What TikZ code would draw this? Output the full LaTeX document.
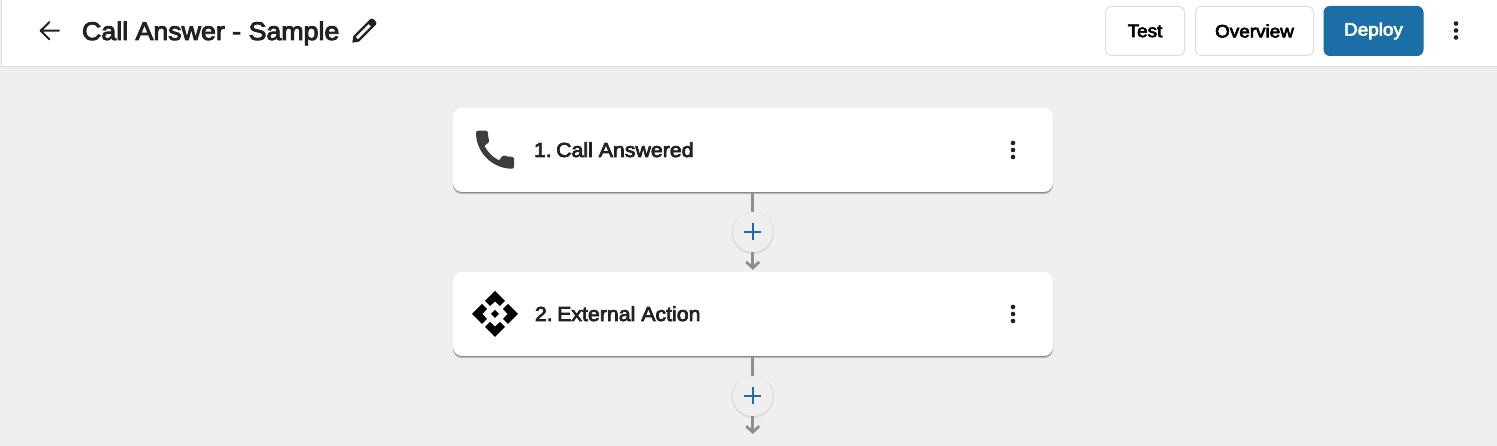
\documentclass[tikz,border=0pt]{standalone}
\usepackage{fontspec}
\setmainfont{Liberation Sans}
\newfontfamily\semifont[FakeBold=3.6,FakeStretch=1.05]{Liberation Sans}
\usetikzlibrary{arrows.meta,positioning,shadows}
\definecolor{pageColor}{RGB}{239,239,239}
\definecolor{edgeColor}{RGB}{222,222,222}
\definecolor{inkColor}{RGB}{33,33,33}
\definecolor{deployColor}{RGB}{27,111,166}
\definecolor{wireColor}{RGB}{142,142,142}
\definecolor{phoneColor}{RGB}{60,60,60}
\tikzset{
  softshadow/.style={general shadow={shadow xshift=0pt,shadow yshift=#1,opacity=0.10,fill=black}},
  cardbox/.style={draw=none,fill=white,rounded corners=9pt,minimum width=600pt,minimum height=84pt,
    softshadow=-2.5pt,softshadow=-2pt,
    general shadow={shadow xshift=0pt,shadow yshift=-1pt,opacity=0.30,fill=black}},
  cardtext/.style={text=inkColor,anchor=base west,inner sep=0pt,outer sep=0pt,font=\semifont\fontsize{20.3}{24}\selectfont},
  toolbtn/.style={draw=edgeColor,line width=1pt,fill=white,rounded corners=6pt,minimum height=49pt,inner sep=0pt,
    text=black,font=\semifont\fontsize{18}{20}\selectfont},
  addbtn/.style={circle,draw=none,fill=pageColor,minimum size=40pt,inner sep=0pt,text=deployColor,
    general shadow={shadow scale=1.08,shadow yshift=-0.8pt,opacity=0.04,fill=black},
    general shadow={shadow scale=1.04,shadow yshift=-0.8pt,opacity=0.05,fill=black}},
  wire/.style={draw=wireColor,line width=3.5pt},
  wiretip/.style={wire,-{Straight Barb[length=6pt,width=13pt,line width=2.8pt]}},
  dotmark/.style={circle,fill=inkColor,minimum size=4.6pt,inner sep=0pt}
}
\begin{document}
\begin{tikzpicture}[x=1pt,y=1pt]
\path[use as bounding box,fill=pageColor] (0,0) rectangle (1497,446);
% header
\path[fill=white] (1.5,379) rectangle (1497,446);
\path[draw=edgeColor,line width=1pt] (1,379) -- (1497,379);
\path[draw=edgeColor,line width=1pt] (1,379) -- (1,446);
\draw[inkColor,line width=2pt,line cap=round,line join=round] (59,415.3) -- (41,415.3) (49.5,424) -- (40.7,415.3) -- (49.5,406.5);
\node[text=inkColor,anchor=base west,inner sep=0pt,outer sep=0pt,font=\semifont\fontsize{25.5}{30}\selectfont] (title) at (82,406) {Call Answer - Sample};
\begin{scope}[shift={(364,415)},rotate=45]
\path[fill=inkColor] (-16.5,0) -- (-11,4) -- (13,4) .. controls (16,4) and (16,-4) .. (13,-4) -- (-11,-4) -- cycle;
\path[fill=white] (-10,1.5) -- (8,1.5) -- (8,-1.5) -- (-10,-1.5) -- cycle;
\end{scope}
\node[toolbtn,minimum width=79pt] (test) at (1145,415) {Test};
\node[toolbtn,minimum width=118pt] (overview) at (1254.5,415) {Overview};
\node[toolbtn,minimum width=99pt,draw=deployColor,fill=deployColor,text=white] (deploy) at (1373.5,415) {Deploy};
\node[dotmark] (topdotA) at (1456,422.5) {};
\node[dotmark] (topdotB) at (1456,415.5) {};
\node[dotmark] (topdotC) at (1456,408.5) {};
% cards
\node[cardbox] (card1) at (753,296) {};
\node[cardbox] (card2) at (753,132) {};
\node[addbtn] (add1) at (752.7,214) {};
\node[addbtn] (add2) at (752.7,50) {};
\coordinate (end2) at (752.7,12);
% connectors
\draw[wire] (card1.south -| add1) -- (add1.north);
\draw[wiretip,shorten >=2pt] (add1.south) -- (card2.north -| add1);
\draw[wire] (card2.south -| add2) -- (add2.north);
\draw[wiretip] (add2.south) -- (end2);
\foreach \addname in {add1,add2}{
  \draw[deployColor,line width=2pt] ([xshift=-8.5pt]\addname.center) -- ([xshift=8.5pt]\addname.center)
    ([yshift=-8.5pt]\addname.center) -- ([yshift=8.5pt]\addname.center);
}
\node[cardtext] (label1) at (534,289) {1.\hspace{-3.5pt} Call Answered};
\node[cardtext] (label2) at (535,125) {2.\hspace{-3.5pt} External Action};
\foreach \cardname/\yy in {card1/296,card2/132}{
  \node[dotmark] at (1013,\yy+7) {};
  \node[dotmark] at (1013,\yy) {};
  \node[dotmark] at (1013,\yy-7) {};
}
% phone icon
\begin{scope}[shift={(469.7,321.6)},x=2.11pt,y=-2.11pt]
\path[fill=phoneColor] (20.01,15.38) .. controls (18.78,15.38) and (17.59,15.18) .. (16.48,14.82)
  .. controls (16.13,14.70) and (15.74,14.79) .. (15.47,15.06) -- (13.90,17.03)
  .. controls (11.07,15.68) and (8.42,13.13) .. (7.01,10.20) -- (8.96,8.54)
  .. controls (9.23,8.26) and (9.31,7.87) .. (9.20,7.52)
  .. controls (8.83,6.41) and (8.64,5.22) .. (8.64,3.99)
  .. controls (8.64,3.45) and (8.19,3.00) .. (7.65,3.00) -- (4.19,3.00)
  .. controls (3.65,3.00) and (3.00,3.24) .. (3.00,3.99)
  .. controls (3.00,13.28) and (10.73,21.00) .. (20.01,21.00)
  .. controls (20.72,21.00) and (21.00,20.37) .. (21.00,19.82) -- (21.00,16.37)
  .. controls (21.00,15.83) and (20.56,15.38) .. (20.01,15.38) -- cycle;
\end{scope}
% action icon
\begin{scope}[shift={(495,132)}]
\foreach \ang in {0,90,180,270}{
  \path[fill=black,rotate=\ang] (23,0) -- (13,10) -- (8,5) -- (12.5,0) -- (8,-5) -- (13,-10) -- cycle;
}
\path[fill=black] (4,0) -- (0,4) -- (-4,0) -- (0,-4) -- cycle;
\end{scope}
\end{tikzpicture}
\end{document}
